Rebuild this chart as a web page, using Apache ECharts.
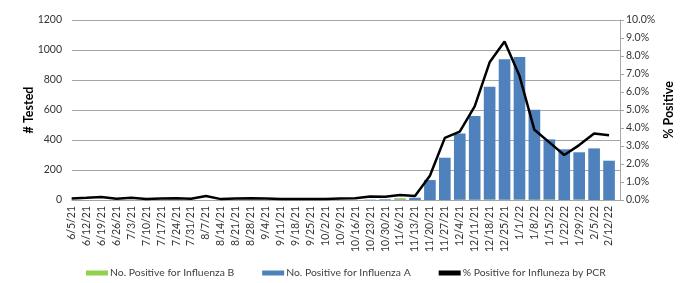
<!DOCTYPE html>
<html>
<head>
<meta charset="utf-8">
<script src="https://cdn.jsdelivr.net/npm/echarts@6/dist/echarts.min.js"></script>
<style>
html,body{margin:0;padding:0;background:#fff;}
#chart{width:683px;height:283px;}
</style>
</head>
<body>
<div id="chart"></div>
<script>
const categories = ['6/5/21','6/12/21','6/19/21','6/26/21','7/3/21','7/10/21','7/17/21','7/24/21','7/31/21','8/7/21','8/14/21','8/21/21','8/28/21','9/4/21','9/11/21','9/18/21','9/25/21','10/2/21','10/9/21','10/16/21','10/23/21','10/30/21','11/6/21','11/13/21','11/20/21','11/27/21','12/4/21','12/11/21','12/18/21','12/25/21','1/1/22','1/8/22','1/15/22','1/22/22','1/29/22','2/5/22','2/12/22'];
const fluB = [0,0,0,0,0,0,0,0,0,0,0,0,0,0,0,0,0,0,0,0,0,1,8,0,0,0,1,1,4,1,4,1,3,0,3,0,0];
const fluA = [0,0,0,0,0,0,0,0,0,0,0,0,0,0,0,0,0,0,0,0,2,4,3,15,133,282,443,559,751,937,949,601,401,338,315,344,262];
const pctPositive = [0.09,0.12,0.17,0.07,0.12,0.06,0.08,0.10,0.07,0.22,0.05,0.08,0.10,0.08,0.05,0.05,0.05,0.05,0.08,0.10,0.20,0.18,0.28,0.22,1.35,3.45,3.80,5.20,7.65,8.80,6.90,3.90,3.20,2.50,3.05,3.70,3.60];
const leftTicks = {min:0, max:1200, interval:200};
const rightTicks = {min:0, max:10, interval:1};

const FONT = 'Lato';
const TXT = '#404040';
const chart = echarts.init(document.getElementById('chart'), null, {renderer:'canvas'});
chart.setOption({
  animation:false,
  backgroundColor:'#fff',
  textStyle:{fontFamily:FONT},
  grid:[
    {left:64.2, right:66.5, top:20, bottom:83},
    {left:72, right:61.3, top:20, bottom:83}
  ],
  legend:{
    left:86, top:268, itemWidth:22, itemHeight:5, itemGap:28, padding:0,
    textStyle:{fontFamily:FONT, fontSize:10.4, color:TXT, padding:[0,0,0,-3]},
    data:[
      {name:'No. Positive for Influenza B', icon:'rect'},
      {name:'No. Positive for Influenza A', icon:'rect'},
      {name:'% Positive for Influneza by PCR', icon:'rect', itemStyle:{color:'#000'}}
    ]
  },
  xAxis:[
    {gridIndex:0, type:'category', data:categories, boundaryGap:true,
     axisLine:{show:false}, axisTick:{show:false},
     axisLabel:{rotate:90, interval:0, fontFamily:FONT, fontSize:10.5, color:'#333', margin:6}},
    {gridIndex:1, type:'value', min:0, max:1,
     axisLine:{show:true, lineStyle:{color:'#a6a6a6', width:1}}, axisTick:{show:false},
     axisLabel:{show:false}, splitLine:{show:false}}
  ],
  yAxis:[
    {gridIndex:1, type:'value', position:'left', min:leftTicks.min, max:leftTicks.max, interval:leftTicks.interval,
     name:'# Tested', nameLocation:'middle', nameGap:37, nameMoveOverlap:false,
     nameTextStyle:{fontFamily:FONT, fontWeight:'bold', fontSize:12.5, color:'#000'},
     axisLine:{show:false}, axisTick:{show:false},
     axisLabel:{fontFamily:FONT, fontSize:10.5, color:'#333', margin:10, formatter:v=>String(v)},
     splitLine:{show:true, lineStyle:{color:'#a6a6a6', width:1}}},
    {gridIndex:1, type:'value', position:'right', min:rightTicks.min, max:rightTicks.max, interval:rightTicks.interval,
     name:'% Positive', nameLocation:'middle', nameGap:42, nameRotate:90, nameMoveOverlap:false,
     nameTextStyle:{fontFamily:FONT, fontWeight:'bold', fontSize:12.5, color:'#000'},
     axisLine:{show:true, lineStyle:{color:'#a6a6a6', width:1}},
     axisTick:{show:true, inside:false, length:4, lineStyle:{color:'#a6a6a6'}},
     axisLabel:{fontFamily:FONT, fontSize:10.5, color:'#333', margin:6, formatter:v=>v.toFixed(1)+'%'},
     splitLine:{show:false}},
    {gridIndex:0, type:'value', min:leftTicks.min, max:leftTicks.max, show:false},
    {gridIndex:0, type:'value', min:rightTicks.min, max:rightTicks.max, show:false}
  ],
  series:[
    {name:'No. Positive for Influenza B', type:'bar', stack:'flu', xAxisIndex:0, yAxisIndex:2,
     data:fluB, barCategoryGap:'22%', itemStyle:{color:'#92D050'}},
    {name:'No. Positive for Influenza A', type:'bar', stack:'flu', xAxisIndex:0, yAxisIndex:2,
     data:fluA, barCategoryGap:'22%', itemStyle:{color:'#4F81BD'}},
    {name:'% Positive for Influneza by PCR', type:'line', xAxisIndex:0, yAxisIndex:3,
     data:pctPositive, showSymbol:false, symbol:'none', smooth:false,
     lineStyle:{color:'#000', width:2.5}, itemStyle:{color:'#000'}, z:5}
  ]
});
</script>
</body>
</html>
